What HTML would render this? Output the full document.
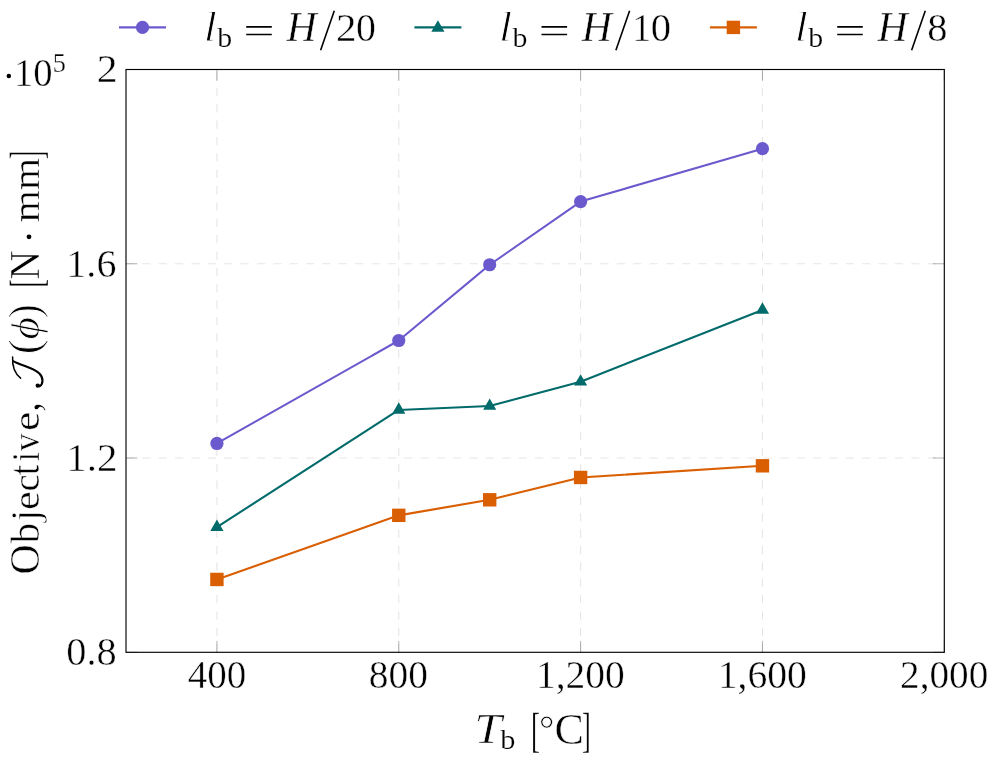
<!DOCTYPE html>
<html><head><meta charset="utf-8"><title>chart</title>
<style>html,body{margin:0;padding:0;background:#fff}svg{display:block}text{font-family:"Liberation Serif",serif;font-kerning:none}</style>
</head><body>
<svg width="997" height="762" viewBox="0 0 997 762">
<rect width="997" height="762" fill="#fff"/><g opacity="0.999">
<path d="M216.92 652.3V69.5M398.77 652.3V69.5M580.61 652.3V69.5M762.46 652.3V69.5M126.0 458.03H944.3M126.0 263.77H944.3" stroke="#e6e6e6" stroke-width="1.1" stroke-dasharray="8.18 8.18" fill="none"/>
<path d="M216.92 652.3v-11.4M216.92 69.5v11.4M398.77 652.3v-11.4M398.77 69.5v11.4M580.61 652.3v-11.4M580.61 69.5v11.4M762.46 652.3v-11.4M762.46 69.5v11.4M944.30 652.3v-11.4M944.30 69.5v11.4M126.0 652.30h11.4M944.3 652.30h-11.4M126.0 458.03h11.4M944.3 458.03h-11.4M126.0 263.77h11.4M944.3 263.77h-11.4M126.0 69.50h11.4M944.3 69.50h-11.4" stroke="#808080" stroke-width="0.6" fill="none"/>
<rect x="126.0" y="69.5" width="818.3" height="582.8" fill="none" stroke="#000" stroke-width="1.15"/>
<polyline points="216.92,443.46 398.77,340.50 489.69,264.74 580.61,201.60 762.46,148.66" fill="none" stroke="#6a5acd" stroke-width="2.1" stroke-linejoin="round"/>
<circle cx="216.92" cy="443.46" r="6.6" fill="#6a5acd"/>
<circle cx="398.77" cy="340.50" r="6.6" fill="#6a5acd"/>
<circle cx="489.69" cy="264.74" r="6.6" fill="#6a5acd"/>
<circle cx="580.61" cy="201.60" r="6.6" fill="#6a5acd"/>
<circle cx="762.46" cy="148.66" r="6.6" fill="#6a5acd"/>
<polyline points="216.92,527.10 398.77,409.95 489.69,406.07 580.61,381.78 762.46,309.91" fill="none" stroke="#006a6a" stroke-width="2.1" stroke-linejoin="round"/>
<path d="M216.92 519.50L223.50 530.90H210.34Z" fill="#006a6a"/>
<path d="M398.77 402.35L405.35 413.75H392.19Z" fill="#006a6a"/>
<path d="M489.69 398.47L496.27 409.87H483.11Z" fill="#006a6a"/>
<path d="M580.61 374.18L587.19 385.58H574.03Z" fill="#006a6a"/>
<path d="M762.46 302.31L769.04 313.71H755.87Z" fill="#006a6a"/>
<polyline points="216.92,579.45 398.77,515.34 489.69,499.80 580.61,477.46 762.46,465.80" fill="none" stroke="#d95f02" stroke-width="2.1" stroke-linejoin="round"/>
<rect x="210.22" y="572.75" width="13.4" height="13.4" fill="#d95f02"/>
<rect x="392.07" y="508.64" width="13.4" height="13.4" fill="#d95f02"/>
<rect x="482.99" y="493.10" width="13.4" height="13.4" fill="#d95f02"/>
<rect x="573.91" y="470.76" width="13.4" height="13.4" fill="#d95f02"/>
<rect x="755.76" y="459.10" width="13.4" height="13.4" fill="#d95f02"/>
<path d="M119.0 27.4h47" stroke="#6a5acd" stroke-width="2.1"/>
<circle cx="142.50" cy="27.40" r="6.6" fill="#6a5acd"/>
<path d="M414.4 27.4h47" stroke="#006a6a" stroke-width="2.1"/>
<path d="M437.90 20.30L444.48 31.70H431.32Z" fill="#006a6a"/>
<path d="M709.9 27.4h47" stroke="#d95f02" stroke-width="2.1"/>
<rect x="726.70" y="20.70" width="13.4" height="13.4" fill="#d95f02"/>
<text transform="translate(203.80,41.20) scale(1.1720,1.0341)" font-size="40" font-style="italic" fill="#000" stroke="#fff" stroke-width="0.85">l</text>
<text transform="translate(217.20,46.96) scale(1.0483,0.9790)" font-size="28.5" fill="#000" stroke="#fff" stroke-width="0.19">b</text>
<path d="M246.20 26.9h25.6M246.20 34.5h25.6" stroke="#000" stroke-width="1.6"/>
<text transform="translate(286.52,40.73) scale(1.0462,1.0300)" font-size="40" font-style="italic" fill="#000" stroke="#fff" stroke-width="0.43">H</text>
<path d="M320.60 50.2L334.30 10.8" stroke="#000" stroke-width="1.6"/>
<text transform="translate(336.07,40.73) scale(1.0259,1.0000)" font-size="40" fill="#000" stroke="#fff" stroke-width="0.44">2</text>
<text transform="translate(356.01,40.73) scale(0.9969,1.0000)" font-size="40" fill="#000" stroke="#fff" stroke-width="0.45">0</text>
<text transform="translate(499.10,41.20) scale(1.1720,1.0341)" font-size="40" font-style="italic" fill="#000" stroke="#fff" stroke-width="0.85">l</text>
<text transform="translate(512.50,46.96) scale(1.0483,0.9790)" font-size="28.5" fill="#000" stroke="#fff" stroke-width="0.19">b</text>
<path d="M541.50 26.9h25.6M541.50 34.5h25.6" stroke="#000" stroke-width="1.6"/>
<text transform="translate(581.82,40.73) scale(1.0462,1.0300)" font-size="40" font-style="italic" fill="#000" stroke="#fff" stroke-width="0.43">H</text>
<path d="M615.90 50.2L629.60 10.8" stroke="#000" stroke-width="1.6"/>
<text transform="translate(632.14,40.73) scale(0.9480,1.0000)" font-size="40" fill="#000" stroke="#fff" stroke-width="0.47">1</text>
<text transform="translate(650.82,40.73) scale(1.0175,1.0000)" font-size="40" fill="#000" stroke="#fff" stroke-width="0.44">0</text>
<text transform="translate(794.80,41.20) scale(1.1720,1.0341)" font-size="40" font-style="italic" fill="#000" stroke="#fff" stroke-width="0.85">l</text>
<text transform="translate(808.20,46.96) scale(1.0483,0.9790)" font-size="28.5" fill="#000" stroke="#fff" stroke-width="0.19">b</text>
<path d="M837.20 26.9h25.6M837.20 34.5h25.6" stroke="#000" stroke-width="1.6"/>
<text transform="translate(877.52,40.73) scale(1.0462,1.0300)" font-size="40" font-style="italic" fill="#000" stroke="#fff" stroke-width="0.43">H</text>
<path d="M911.60 50.2L925.30 10.8" stroke="#000" stroke-width="1.6"/>
<text transform="translate(927.33,40.73) scale(1.0116,1.0000)" font-size="40" fill="#000" stroke="#fff" stroke-width="0.44">8</text>
<text transform="translate(187.81,688.13) scale(0.9749,1.0000)" font-size="40" fill="#000" stroke="#fff" stroke-width="0.46">400</text>
<text transform="translate(368.87,688.13) scale(0.9859,1.0000)" font-size="40" fill="#000" stroke="#fff" stroke-width="0.46">800</text>
<text transform="translate(535.91,688.13) scale(0.9869,1.0000)" font-size="40" fill="#000" stroke="#fff" stroke-width="0.46">1,200</text>
<text transform="translate(717.69,688.13) scale(0.9916,1.0000)" font-size="40" fill="#000" stroke="#fff" stroke-width="0.45">1,600</text>
<text transform="translate(900.05,688.13) scale(0.9808,1.0000)" font-size="40" fill="#000" stroke="#fff" stroke-width="0.46">2,000</text>
<text transform="translate(96.64,82.14) scale(1.0446,1.0000)" font-size="40" fill="#000" stroke="#fff" stroke-width="0.43">2</text>
<text transform="translate(66.35,276.74) scale(1.0013,1.0000)" font-size="40" fill="#000" stroke="#fff" stroke-width="0.45">1.6</text>
<text transform="translate(66.27,471.00) scale(1.0242,1.0000)" font-size="40" fill="#000" stroke="#fff" stroke-width="0.44">1.2</text>
<text transform="translate(66.34,665.28) scale(1.0085,1.0000)" font-size="40" fill="#000" stroke="#fff" stroke-width="0.45">0.8</text>
<circle cx="8.8" cy="75.9" r="2.25" fill="#000"/>
<text transform="translate(13.98,85.73) scale(0.9654,1.0000)" font-size="40" fill="#000" stroke="#fff" stroke-width="0.47">10</text>
<text transform="translate(52.85,71.58) scale(0.9523,1.0000)" font-size="27.5" fill="#000" stroke="#fff" stroke-width="0.26">5</text>
<text transform="translate(474.35,743.14) scale(1.2413,1.0400)" font-size="40" font-style="italic" fill="#000" stroke="#fff" stroke-width="0.64">T</text>
<text transform="translate(500.20,749.36) scale(1.0635,0.9689)" font-size="28.5" fill="#000" stroke="#fff" stroke-width="0.19">b</text>
<text transform="translate(530.90,746.47) scale(0.6737,1.2022)" font-size="40" fill="#000" stroke="#fff" stroke-width="0.30">[</text>
<text transform="translate(538.97,741.60) scale(0.9564,0.9399)" font-size="40" fill="#000" stroke="#fff" stroke-width="0.63">°</text>
<text transform="translate(554.47,743.79) scale(1.1015,1.1033)" font-size="40" fill="#000" stroke="#fff" stroke-width="0.41">C</text>
<text transform="translate(581.94,746.47) scale(0.6625,1.2022)" font-size="40" fill="#000" stroke="#fff" stroke-width="0.30">]</text>
<text transform="translate(38.6,573.0) rotate(-90) translate(-1.54,0.61) scale(1.0447,1.0660)" font-size="40" fill="#000" stroke="#fff" stroke-width="0.43">O</text>
<text transform="translate(38.6,573.0) rotate(-90) translate(29.77,0.23) scale(1.0202,1.0037)" font-size="40" fill="#000" stroke="#fff" stroke-width="0.44">b</text>
<text transform="translate(38.6,573.0) rotate(-90) translate(51.17,-0.37) scale(1.1441,0.9886)" font-size="40" fill="#000" stroke="#fff" stroke-width="0.79">j</text>
<text transform="translate(38.6,573.0) rotate(-90) translate(62.93,0.45) scale(1.0503,0.9694)" font-size="40" fill="#000" stroke="#fff" stroke-width="0.43">e</text>
<text transform="translate(38.6,573.0) rotate(-90) translate(81.50,0.45) scale(0.9700,0.9694)" font-size="40" fill="#000" stroke="#fff" stroke-width="0.46">c</text>
<text transform="translate(38.6,573.0) rotate(-90) translate(98.02,0.20) scale(0.9201,1.0934)" font-size="40" fill="#000" stroke="#fff" stroke-width="0.49">t</text>
<text transform="translate(38.6,573.0) rotate(-90) translate(111.45,0.23) scale(0.8674,1.0025)" font-size="40" fill="#000" stroke="#fff" stroke-width="0.52">i</text>
<text transform="translate(38.6,573.0) rotate(-90) translate(121.98,0.25) scale(0.8775,0.9520)" font-size="40" fill="#000" stroke="#fff" stroke-width="0.51">v</text>
<text transform="translate(38.6,573.0) rotate(-90) translate(141.97,0.45) scale(1.0909,0.9694)" font-size="40" fill="#000" stroke="#fff" stroke-width="0.41">e</text>
<text transform="translate(38.6,573.0) rotate(-90) translate(161.02,0.62) scale(1.0072,1.1583)" font-size="40" fill="#000" stroke="#fff" stroke-width="0.69">,</text>
<text transform="translate(38.6,573.0) rotate(-90) translate(218.51,0.69) scale(1.1583,1.1111)" font-size="40" fill="#000" stroke="#fff" stroke-width="0.78">(</text>
<text transform="translate(38.6,573.0) rotate(-90) translate(233.61,0.34) scale(1.0824,1.0284)" font-size="40" font-style="italic" fill="#000" stroke="#fff" stroke-width="0.74">ϕ</text>
<text transform="translate(38.6,573.0) rotate(-90) translate(254.69,0.69) scale(1.0513,1.1111)" font-size="40" fill="#000" stroke="#fff" stroke-width="0.86">)</text>
<text transform="translate(38.6,573.0) rotate(-90) translate(285.13,3.16) scale(0.6625,1.1841)" font-size="40" fill="#000" stroke="#fff" stroke-width="0.30">[</text>
<text transform="translate(38.6,573.0) rotate(-90) translate(293.53,0.14) scale(0.9975,1.0370)" font-size="40" fill="#000" stroke="#fff" stroke-width="0.45">N</text>
<text transform="translate(38.6,573.0) rotate(-90) translate(350.71,0.33) scale(1.0344,0.9630)" font-size="40" fill="#000" stroke="#fff" stroke-width="0.44">mm</text>
<text transform="translate(38.6,573.0) rotate(-90) translate(414.12,3.16) scale(0.6063,1.1841)" font-size="40" fill="#000" stroke="#fff" stroke-width="0.33">]</text>
<circle cx="29.0" cy="236.8" r="2.4" fill="#000"/>
<path d="M12.6 356.9C12.2 364 13.5 372.5 20.6 378.2" fill="none" stroke="#000" stroke-width="1.5" stroke-linecap="round"/>
<path d="M13.1 361.2C22 366 33 367.5 39.4 373.5C43.8 378 43.2 384.5 39.5 386.2" fill="none" stroke="#000" stroke-width="2.1" stroke-linecap="round"/>
<circle cx="37.8" cy="385.6" r="2.2" fill="#000"/>
</g>
</svg>
</body></html>
